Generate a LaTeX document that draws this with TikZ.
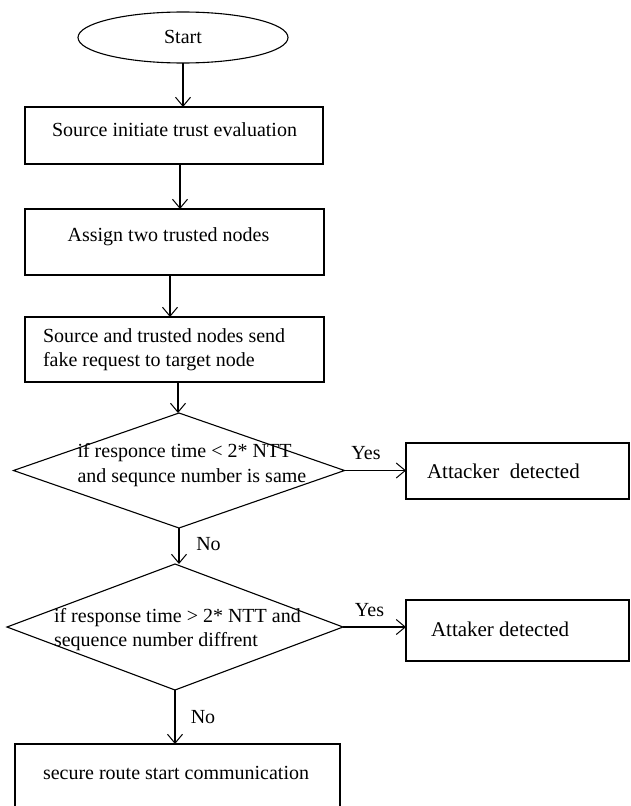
\documentclass[tikz,border=0pt]{standalone}
\usepackage{fontspec}
\setmainfont{Liberation Serif}
\usetikzlibrary{arrows.meta,shapes.geometric}
\begin{document}
\begin{tikzpicture}[x=1pt,y=-1pt,
  every node/.style={inner sep=0pt, outer sep=0pt},
  shp/.style={draw=black, line width=1.1pt},
  boxshape/.style={shp, rectangle},
  txt/.style={font=\fontsize{20}{24.5}\selectfont, align=left, text=black},
  bigtxt/.style={font=\fontsize{21}{25}\selectfont, align=left, text=black},
  arr/.style={draw=black, line width=1.1pt, -{Straight Barb[length=9pt,width=15pt,line width=1pt]}}
]
\useasboundingbox (0,0) rectangle (630,806);
\clip (0,0) rectangle (630,806);

% shapes
\node[shp, ellipse, minimum width=210pt, minimum height=51pt] (start) at (183,37.5) {};
\node[boxshape, minimum width=298pt, minimum height=57pt] (b1) at (174,135.5) {};
\node[boxshape, minimum width=299pt, minimum height=66pt] (b2) at (174.5,242) {};
\node[boxshape, minimum width=299pt, minimum height=65pt] (b3) at (174.5,349.5) {};
\node[shp, diamond, minimum width=331pt, minimum height=115pt] (d1) at (179,470.5) {};
\node[boxshape, minimum width=223pt, minimum height=56pt] (a1) at (517.5,471) {};
\node[shp, diamond, minimum width=336pt, minimum height=126pt] (d2) at (175,627) {};
\node[boxshape, minimum width=223pt, minimum height=61pt] (a2) at (517.5,630.5) {};
\node[boxshape, minimum width=325pt, minimum height=80pt] (b4) at (177.5,784) {};

% texts
\node[txt] (tstart) at (183,37) {Start};
\node[txt] (t1) at (174.5,130) {Source initiate trust evaluation};
\node[txt] (t2) at (168.5,237) {Assign two trusted nodes};
\node[txt, anchor=west] (t3) at (43,349.5) {Source and trusted nodes send\\fake request to target node};
\node[txt, anchor=west] (td1) at (77.5,465) {if responce time < 2* NTT\\and sequnce number is same};
\node[bigtxt, anchor=west] (ta1) at (427,471) {Attacker\ \ detected};
\node[txt, anchor=west] (td2) at (54,629.5) {if response time > 2* NTT and\\sequence number diffrent};
\node[bigtxt, anchor=west] (ta2) at (431,629) {Attaker detected};
\node[txt, anchor=west] (t4) at (43,773) {secure route start communication};

% branch labels
\node[txt] (yes1) at (366,453) {Yes};
\node[txt] (no1) at (208.5,544) {No};
\node[txt] (yes2) at (369.5,610) {Yes};
\node[txt] (no2) at (203,717) {No};

% connectors
\draw[arr] (start.south) -- (start.south |- b1.north);
\draw[arr] ([xshift=6pt]b1.south) -- ([xshift=6pt]b1.south |- b2.north);
\draw[arr] ([xshift=-4.5pt]b2.south) -- ([xshift=-4.5pt]b2.south |- b3.north);
\draw[arr] ([xshift=3.5pt]b3.south) -- ([xshift=3.5pt]b3.south |- d1.north);
\draw[arr] (d1.south) -- (d1.south |- d2.north);
\draw[arr] (d1.east) -- (d1.east -| a1.west);
\draw[arr] (d2.east) -- (d2.east -| a2.west);
\draw[arr] (d2.south) -- (d2.south |- b4.north);
\end{tikzpicture}
\end{document}
